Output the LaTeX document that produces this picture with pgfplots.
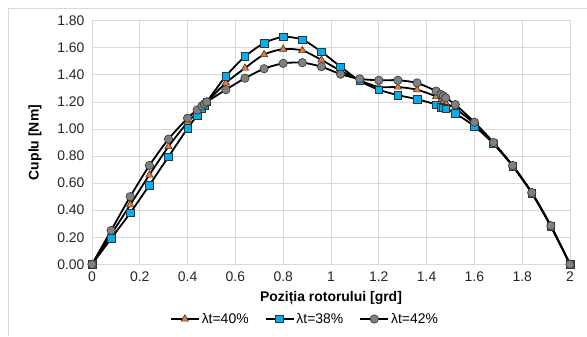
\documentclass[border=0pt]{standalone}
\usepackage{pgfplots}
\pgfplotsset{compat=1.18}
\usepackage{fontspec}
\setmainfont{Liberation Sans}
\definecolor{gridc}{HTML}{D9D9D9}
\definecolor{sqc}{HTML}{00B0F0}
\definecolor{trc}{HTML}{ED7D31}
\definecolor{cic}{HTML}{808080}
\begin{document}
\begin{tikzpicture}[x=1bp,y=1bp]
\path[use as bounding box] (0,0) rectangle (587,336);
\draw[gridc, line width=0.8bp] (8,0) -- (8,328) -- (587,328);
\begin{axis}[
  at={(92bp,71.7bp)}, anchor=south west,
  width=478bp, height=243.6bp, scale only axis,
  xmin=0, xmax=2, ymin=0, ymax=1.8,
  xtick={0,0.2,...,2.01}, ytick={0,0.2,...,1.81},
  grid=major, grid style={gridc, line width=0.8bp},
  axis line style={gridc, line width=0.8bp},
  major tick length=0pt,
  tick label style={font=\fontsize{14}{16}\selectfont, text=black!85},
  /pgf/number format/assume math mode=true,
  yticklabel style={xshift=-4bp, /pgf/number format/.cd, fixed, fixed zerofill, precision=2},
  xticklabel style={yshift=-4bp, /pgf/number format/.cd, fixed},
  xlabel={Poziția rotorului [grd]},
  ylabel={Cuplu [Nm]},
  label style={font=\bfseries\fontsize{14}{16}\selectfont},
  xlabel style={at={(axis description cs:0.5,-0.138)}, anchor=center},
  ylabel style={at={(axis description cs:-0.119,0.5)}, anchor=center, rotate=0},
  legend columns=3,
  legend style={at={(axis description cs:0.4456,-0.2245)}, anchor=center, draw=none, fill=none,
    font=\fontsize{14}{16}\selectfont, /tikz/every even column/.append style={column sep=14bp}},
  legend image code/.code={\draw[#1, mark repeat=2, mark phase=2] plot coordinates {(0bp,0bp) (14bp,0bp) (28bp,0bp)};},
  every axis plot/.append style={black, line width=1.8bp, smooth, tension=0.45},
]
\addplot[mark=triangle*, mark size=4.2bp, mark options={fill=trc, draw=black!80, line width=0.6bp}] coordinates {
(0,0) (0.08,0.22) (0.16,0.44) (0.24,0.66) (0.32,0.87) (0.40,1.05) (0.44,1.12) (0.46,1.16) (0.47,1.18) (0.48,1.20)
(0.56,1.34) (0.64,1.45) (0.72,1.55) (0.80,1.59) (0.88,1.58) (0.96,1.51) (1.04,1.43) (1.12,1.36) (1.20,1.31)
(1.28,1.31) (1.36,1.29) (1.44,1.24) (1.46,1.21) (1.47,1.20) (1.48,1.19) (1.52,1.15) (1.60,1.04) (1.68,0.89)
(1.76,0.73) (1.84,0.53) (1.92,0.28) (2.00,0)};
\addlegendentry{λt=40\%}
\addplot[mark=square*, mark size=3.8bp, mark options={fill=sqc, draw=black!80, line width=0.6bp}] coordinates {
(0,0) (0.08,0.19) (0.16,0.38) (0.24,0.585) (0.32,0.795) (0.40,1.005) (0.44,1.10) (0.46,1.15) (0.47,1.17) (0.48,1.20)
(0.56,1.39) (0.64,1.535) (0.72,1.635) (0.80,1.68) (0.88,1.66) (0.96,1.57) (1.04,1.46) (1.12,1.355) (1.20,1.29)
(1.28,1.25) (1.36,1.22) (1.44,1.18) (1.46,1.16) (1.47,1.155) (1.48,1.15) (1.52,1.115) (1.60,1.02) (1.68,0.89)
(1.76,0.725) (1.84,0.525) (1.92,0.28) (2.00,0)};
\addlegendentry{λt=38\%}
\addplot[mark=*, mark size=4.2bp, mark options={fill=cic, draw=black!80, line width=0.6bp}] coordinates {
(0,0) (0.08,0.25) (0.16,0.50) (0.24,0.73) (0.32,0.925) (0.40,1.08) (0.44,1.14) (0.46,1.17) (0.47,1.185) (0.48,1.20)
(0.56,1.29) (0.64,1.375) (0.72,1.445) (0.80,1.485) (0.88,1.49) (0.96,1.46) (1.04,1.405) (1.12,1.37) (1.20,1.36)
(1.28,1.36) (1.36,1.34) (1.44,1.28) (1.46,1.255) (1.47,1.245) (1.48,1.23) (1.52,1.18) (1.60,1.05) (1.68,0.90)
(1.76,0.73) (1.84,0.53) (1.92,0.285) (2.00,0)};
\addlegendentry{λt=42\%}
\end{axis}
\end{tikzpicture}
\end{document}
